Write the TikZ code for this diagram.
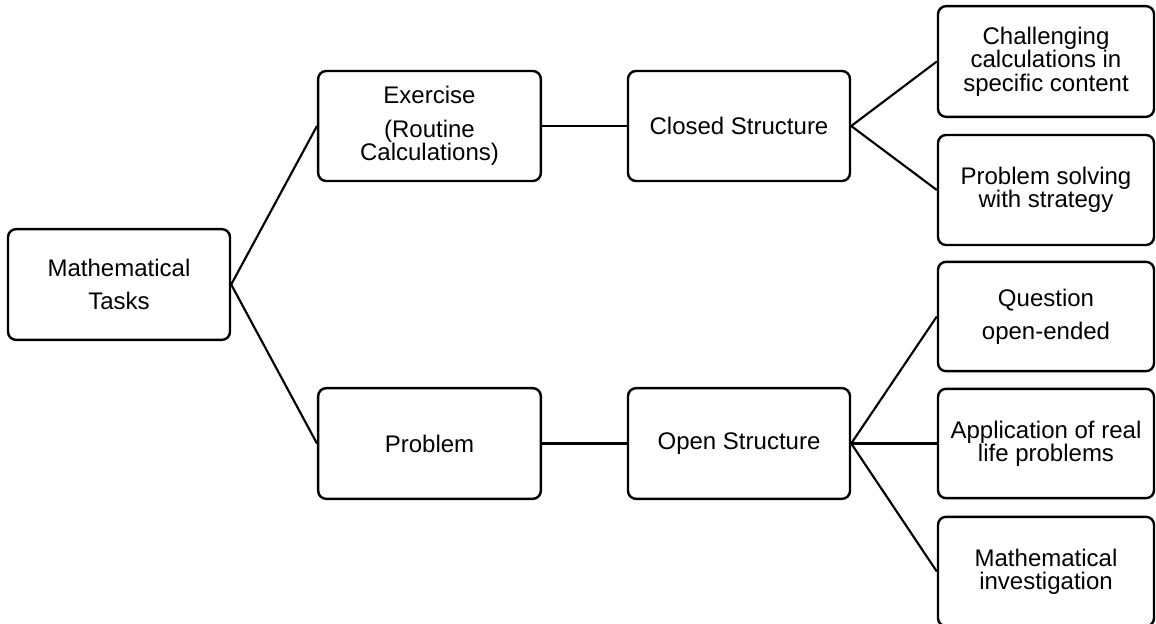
\documentclass[tikz,border=0pt]{standalone}
\usepackage{fontspec}
\setmainfont{Liberation Sans}
\begin{document}
\begin{tikzpicture}[x=0.75pt,y=-0.75pt,
  box/.style={draw=black, line width=1.8pt, rounded corners=6pt, align=center, inner sep=0pt,
    font=\fontsize{18}{17.5}\selectfont, minimum width=#1},
  box/.default=166.5pt,
  link/.style={line width=1.6pt}]
\useasboundingbox (0,0) rectangle (1156,624);
\node[box, minimum height=83pt] (mt) at (119,284.5) {Mathematical\\[7pt]Tasks};
\node[box=167pt, minimum height=82.5pt] (ex) at (429.5,126) {Exercise\\[8pt](Routine\\Calculations)};
\node[box=167pt, minimum height=83pt] (pr) at (429.5,443.5) {Problem};
\node[box, minimum height=82.5pt] (cs) at (739,126) {Closed Structure};
\node[box, minimum height=83pt] (os) at (739,443.5) {Open Structure};
\node[box=162pt, minimum height=83pt] (ch) at (1046,61.5) {Challenging\\calculations in\\specific content};
\node[box=162pt, minimum height=82.5pt] (ps) at (1046,190) {Problem solving\\with strategy};
\node[box=162pt, minimum height=82pt] (qo) at (1046,316.5) {Question\\[7pt]open-ended};
\node[box=162pt, minimum height=82pt] (ap) at (1046,443.5) {Application of real\\life problems};
\node[box=162pt, minimum height=82pt] (mi) at (1046,571.5) {Mathematical\\investigation};
\draw[link] (mt.east) -- (ex.west);
\draw[link] (mt.east) -- (pr.west);
\draw[link] (ex.east) -- (cs.west);
\draw[link] (pr.east) -- (os.west);
\draw[link] (cs.east) -- (ch.west);
\draw[link] (cs.east) -- (ps.west);
\draw[link] (os.east) -- (qo.west);
\draw[link] (os.east) -- (ap.west);
\draw[link] (os.east) -- (mi.west);
\end{tikzpicture}
\end{document}
